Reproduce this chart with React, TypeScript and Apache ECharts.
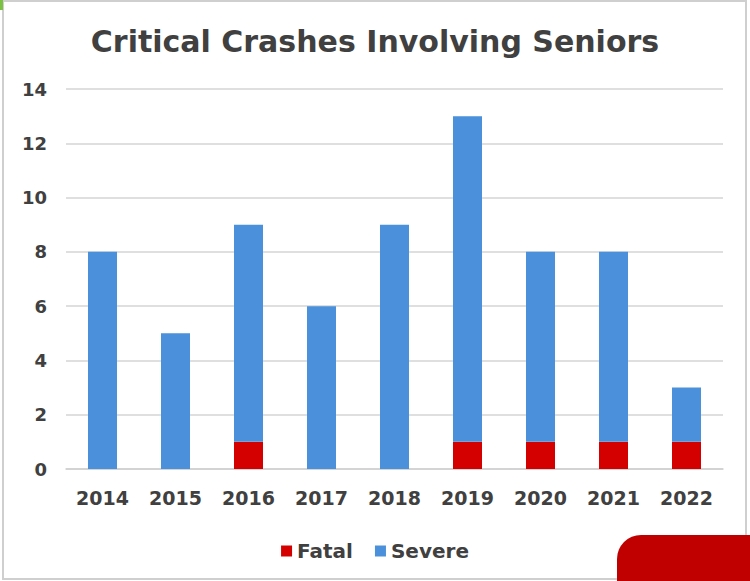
import React, { useEffect, useRef } from "react";
import * as echarts from "echarts";

const years = ["2014", "2015", "2016", "2017", "2018", "2019", "2020", "2021", "2022"];
const fatal = [0, 0, 1, 0, 0, 1, 1, 1, 1];
const severe = [8, 5, 8, 6, 9, 12, 7, 7, 2];
const yTicks = { min: 0, max: 14, interval: 2 };

export default function App() {
  const ref = useRef<HTMLDivElement>(null);
  useEffect(() => {
    const chart = echarts.init(ref.current!, null, { renderer: "svg" });
    const font = "'DejaVu Sans', Verdana, sans-serif";
    chart.setOption({
      animation: false,
      backgroundColor: "#ffffff",
      textStyle: { fontFamily: font },
      title: {
        text: "Critical Crashes Involving Seniors",
        left: "center",
        top: 21,
        textStyle: { fontSize: 30, fontWeight: "bold", color: "#404040", fontFamily: font },
      },
      legend: {
        left: "center",
        top: 536,
        itemWidth: 11,
        itemHeight: 11,
        itemGap: 22,
        icon: "rect",
        textStyle: { fontSize: 20, fontWeight: "bold", color: "#404040", fontFamily: font },
        data: ["Fatal", "Severe"],
      },
      grid: { left: 66, right: 27, top: 89, bottom: 112, containLabel: false },
      xAxis: {
        type: "category",
        data: years,
        axisLine: { show: true, lineStyle: { color: "#d0d0d0", width: 1.5 } },
        axisTick: { show: false },
        axisLabel: { fontSize: 19, fontWeight: "bold", color: "#404040", margin: 19, fontFamily: font },
      },
      yAxis: {
        type: "value",
        min: yTicks.min,
        max: yTicks.max,
        interval: yTicks.interval,
        axisLine: { show: false },
        axisTick: { show: false },
        axisLabel: { fontSize: 18, fontWeight: "bold", color: "#404040", margin: 19, fontFamily: font },
        splitLine: { lineStyle: { color: "#d4d4d4", width: 1.5 } },
      },
      series: [
        {
          name: "Fatal",
          type: "bar",
          stack: "total",
          data: fatal,
          barWidth: 29,
          itemStyle: { color: "#D40000" },
        },
        {
          name: "Severe",
          type: "bar",
          stack: "total",
          data: severe,
          barWidth: 29,
          itemStyle: { color: "#4A90DA" },
        },
      ],
      graphic: [
        {
          type: "rect",
          shape: { x: 3, y: 1, width: 743, height: 578 },
          style: { fill: "none", stroke: "#cfcfcf", lineWidth: 2 },
          silent: true,
        },
        {
          type: "rect",
          shape: { x: 0, y: 0, width: 3, height: 10 },
          style: { fill: "#7cc242" },
          silent: true,
        },
        {
          type: "rect",
          shape: { x: 617, y: 535, width: 140, height: 60, r: [24, 0, 0, 0] },
          style: { fill: "#C00000" },
          silent: true,
        },
      ],
    });
    return () => chart.dispose();
  }, []);
  return <div ref={ref} style={{ width: 750, height: 581, position: "absolute", left: 0, top: 0 }} />;
}
